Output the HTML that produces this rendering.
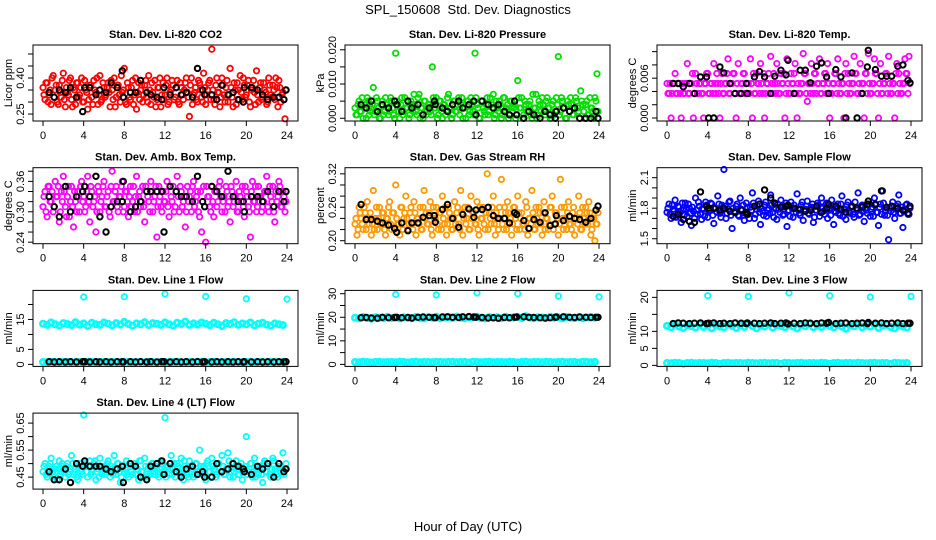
<!DOCTYPE html>
<html><head><meta charset="utf-8"><style>
html,body{margin:0;padding:0;background:#fff;}
svg{display:block;font-family:"Liberation Sans",sans-serif;}
</style></head><body>
<svg id="chart" width="936" height="540" viewBox="0 0 936 540">
<text x="468" y="14" text-anchor="middle" font-size="13">SPL_150608&#160; Std. Dev. Diagnostics</text>
<text x="468" y="531" text-anchor="middle" font-size="13">Hour of Day (UTC)</text>
</svg>
<script>
const xTicks = [0,4,8,12,16,20,24];
const blackHours = [0.6,1.1,1.6,2.2,2.7,3.3,3.9,4.1,4.6,5.2,5.6,6.2,6.7,7.3,7.8,7.9,8.6,9.1,9.6,10.2,10.6,11.2,11.7,11.9,12.5,13.1,13.6,14.1,14.7,15.2,15.7,15.9,16.6,17.1,17.6,18.2,18.7,19.2,19.7,19.8,20.5,21.1,21.6,22.1,22.7,23.2,23.7,23.9];
const outlierHours = [4,8,12,16,20,24];

const co2Vals = [0.36,0.31,0.38,0.33,0.29,0.41,0.35,0.30,0.37,0.32,0.42,0.28,0.34,0.39,0.31,0.36,0.29,0.38,0.33,0.40,0.30,0.35,0.27,0.37,0.32,0.39,0.34,0.29,0.41,0.31,0.36,0.33,0.38,0.28,0.35,0.40,0.32,0.37,0.30,0.34,0.44,0.29,0.36,0.31,0.39,0.33,0.27,0.38,0.35,0.30,0.37,0.32,0.41,0.29,0.34,0.39,0.31,0.36,0.28,0.38,0.33,0.40,0.30,0.35,0.37,0.32,0.39,0.29,0.36,0.31,0.38,0.34,0.24,0.40,0.33,0.36,0.30,0.38,0.32,0.42,0.29,0.35,0.39,0.52,0.31,0.37,0.34,0.28,0.40,0.33,0.36,0.30,0.44,0.32,0.38,0.29,0.35,0.41,0.31,0.37,0.33,0.39,0.28,0.36,0.34,0.43,0.30,0.38,0.32,0.35,0.29,0.40,0.33,0.37,0.31,0.36,0.39,0.30,0.34,0.23];
const co2ValsB = [0.33,0.38,0.30,0.35,0.40,0.32,0.37,0.29,0.34,0.39,0.31,0.36,0.33,0.40,0.28,0.35,0.38,0.32,0.36,0.30,0.39,0.34,0.31,0.37,0.29,0.35,0.40,0.33,0.30,0.38,0.32,0.36,0.34,0.39,0.31,0.28,0.37,0.33,0.41,0.35,0.30,0.38,0.32,0.36,0.29,0.40,0.34,0.31,0.37,0.33,0.39,0.30,0.35,0.38,0.32,0.28,0.36,0.40,0.33,0.31,0.37,0.29,0.34,0.39,0.31,0.36,0.30,0.38,0.33,0.35,0.40,0.32,0.37,0.29,0.34,0.31,0.39,0.35,0.30,0.36,0.33,0.38,0.31,0.35,0.29,0.40,0.34,0.32,0.37,0.30,0.39,0.33,0.36,0.28,0.35,0.38,0.31,0.34,0.40,0.32,0.37,0.30,0.35,0.39,0.29,0.33,0.36,0.31,0.38,0.34,0.30,0.37,0.32,0.35,0.40,0.28,0.36,0.33,0.31,0.35];
const co2Black = [0.34,0.32,0.35,0.34,0.36,0.32,0.26,0.36,0.36,0.33,0.35,0.34,0.38,0.36,0.43,0.32,0.34,0.34,0.39,0.34,0.33,0.32,0.31,0.36,0.33,0.36,0.33,0.34,0.32,0.44,0.35,0.33,0.33,0.31,0.37,0.33,0.34,0.31,0.30,0.36,0.36,0.35,0.33,0.31,0.32,0.32,0.31,0.35];

const presVals = [0.003,0.001,0.005,0.002,0.000,0.004,0.006,0.001,0.003,0.009,0.002,0.005,0.000,0.004,0.001,0.006,0.003,0.002,0.005,0.001,0.019,0.004,0.000,0.006,0.002,0.003,0.005,0.001,0.004,0.007,0.002,0.006,0.000,0.003,0.005,0.001,0.004,0.002,0.015,0.003,0.006,0.001,0.005,0.000,0.004,0.002,0.007,0.003,0.001,0.005,0.002,0.006,0.004,0.000,0.003,0.005,0.001,0.006,0.002,0.019,0.004,0.000,0.005,0.003,0.001,0.006,0.002,0.004,0.007,0.001,0.003,0.005,0.000,0.006,0.002,0.004,0.001,0.005,0.003,0.000,0.011,0.003,0.006,0.001,0.004,0.002,0.005,0.000,0.003,0.007,0.001,0.004,0.006,0.002,0.005,0.003,0.000,0.004,0.001,0.006,0.018,0.002,0.005,0.003,0.000,0.004,0.006,0.001,0.003,0.005,0.002,0.008,0.004,0.000,0.005,0.001,0.003,0.002,0.006,0.013];
const presValsB = [0.001,0.004,0.002,0.006,0.003,0.000,0.005,0.002,0.004,0.001,0.006,0.003,0.000,0.005,0.002,0.004,0.001,0.006,0.003,0.000,0.005,0.002,0.004,0.001,0.006,0.003,0.000,0.005,0.002,0.004,0.001,0.007,0.003,0.000,0.005,0.002,0.004,0.001,0.006,0.003,0.000,0.005,0.002,0.004,0.001,0.006,0.003,0.000,0.005,0.002,0.004,0.001,0.006,0.003,0.000,0.005,0.002,0.004,0.001,0.006,0.003,0.000,0.005,0.002,0.004,0.001,0.006,0.003,0.000,0.005,0.002,0.004,0.001,0.006,0.003,0.000,0.005,0.002,0.004,0.001,0.006,0.003,0.000,0.005,0.002,0.004,0.001,0.007,0.003,0.000,0.005,0.002,0.004,0.001,0.006,0.003,0.000,0.005,0.002,0.004,0.001,0.006,0.003,0.000,0.005,0.002,0.004,0.001,0.006,0.003,0.000,0.005,0.002,0.004,0.001,0.006,0.003,0.000,0.005,0.002];
const presBlack = [0.004,0.003,0.005,0.002,0.004,0.003,0.005,0.004,0.002,0.005,0.003,0.004,0.001,0.003,0.005,0.004,0.003,0.002,0.004,0.005,0.003,0.004,0.005,0.001,0.005,0.004,0.003,0.004,0.002,0.001,0.005,0.001,0.000,0.002,0.001,0.000,0.002,0.001,0.000,0.002,0.003,0.002,0.003,0.000,0.000,0.000,0.002,0.000];

const tempVals = [0.0052,0.0037,0.0000,0.0052,0.0067,0.0037,0.0052,0.0000,0.0037,0.0052,0.0082,0.0037,0.0052,0.0000,0.0067,0.0037,0.0052,0.0037,0.0000,0.0052,0.0067,0.0037,0.0052,0.0082,0.0037,0.0052,0.0000,0.0067,0.0037,0.0052,0.0089,0.0037,0.0052,0.0067,0.0000,0.0082,0.0037,0.0052,0.0067,0.0037,0.0052,0.0089,0.0000,0.0037,0.0067,0.0052,0.0082,0.0037,0.0000,0.0052,0.0067,0.0093,0.0037,0.0052,0.0082,0.0037,0.0067,0.0052,0.0000,0.0089,0.0037,0.0067,0.0052,0.0082,0.0000,0.0037,0.0052,0.0097,0.0067,0.0025,0.0052,0.0082,0.0037,0.0067,0.0052,0.0089,0.0037,0.0052,0.0067,0.0082,0.0000,0.0037,0.0052,0.0067,0.0089,0.0037,0.0052,0.0000,0.0082,0.0067,0.0037,0.0052,0.0093,0.0067,0.0037,0.0082,0.0052,0.0000,0.0067,0.0097,0.0037,0.0052,0.0089,0.0067,0.0000,0.0082,0.0037,0.0052,0.0067,0.0093,0.0037,0.0052,0.0000,0.0082,0.0067,0.0037,0.0052,0.0089,0.0067,0.0093];
const tempValsB = [0.0037,0.0052,0.0037,0.0052,0.0037,0.0052,0.0037,0.0052,0.0037,0.0052,0.0037,0.0052,0.0067,0.0037,0.0052,0.0037,0.0052,0.0037,0.0052,0.0067,0.0037,0.0052,0.0037,0.0052,0.0067,0.0037,0.0052,0.0037,0.0052,0.0067,0.0037,0.0052,0.0067,0.0037,0.0052,0.0037,0.0052,0.0067,0.0037,0.0052,0.0037,0.0052,0.0067,0.0037,0.0052,0.0037,0.0052,0.0067,0.0037,0.0052,0.0037,0.0052,0.0067,0.0037,0.0052,0.0037,0.0052,0.0067,0.0037,0.0052,0.0037,0.0052,0.0067,0.0037,0.0052,0.0037,0.0052,0.0067,0.0037,0.0052,0.0037,0.0052,0.0067,0.0037,0.0052,0.0037,0.0052,0.0067,0.0037,0.0052,0.0037,0.0052,0.0067,0.0037,0.0052,0.0037,0.0052,0.0067,0.0037,0.0052,0.0037,0.0052,0.0067,0.0037,0.0052,0.0037,0.0052,0.0067,0.0037,0.0052,0.0037,0.0052,0.0067,0.0037,0.0052,0.0037,0.0052,0.0067,0.0037,0.0052,0.0037,0.0052,0.0067,0.0037,0.0052,0.0037,0.0052,0.0067,0.0037,0.0052];
const tempBlack = [0.0052,0.0052,0.0047,0.0052,0.0037,0.0062,0.0062,0.0000,0.0000,0.0077,0.0068,0.0052,0.0037,0.0037,0.0052,0.0037,0.0062,0.0070,0.0062,0.0037,0.0063,0.0072,0.0065,0.0087,0.0037,0.0072,0.0072,0.0053,0.0078,0.0083,0.0062,0.0037,0.0073,0.0062,0.0000,0.0068,0.0000,0.0037,0.0077,0.0102,0.0073,0.0063,0.0063,0.0063,0.0078,0.0080,0.0057,0.0053];

const boxVals = [0.31,0.34,0.29,0.35,0.32,0.30,0.36,0.33,0.28,0.34,0.37,0.31,0.33,0.29,0.35,0.27,0.32,0.34,0.30,0.36,0.33,0.31,0.37,0.28,0.34,0.32,0.26,0.35,0.30,0.33,0.36,0.31,0.34,0.29,0.38,0.32,0.35,0.30,0.33,0.36,0.31,0.34,0.29,0.35,0.32,0.30,0.37,0.33,0.31,0.35,0.28,0.34,0.32,0.36,0.30,0.33,0.25,0.35,0.31,0.34,0.32,0.36,0.29,0.33,0.35,0.31,0.37,0.30,0.34,0.32,0.27,0.35,0.33,0.30,0.36,0.32,0.34,0.29,0.26,0.35,0.24,0.33,0.31,0.35,0.29,0.34,0.32,0.36,0.30,0.33,0.35,0.31,0.28,0.34,0.32,0.36,0.30,0.33,0.35,0.29,0.34,0.31,0.25,0.36,0.32,0.30,0.35,0.33,0.31,0.34,0.37,0.30,0.33,0.35,0.28,0.32,0.36,0.31,0.34,0.30];
const boxValsB = [0.33,0.30,0.35,0.32,0.34,0.31,0.33,0.35,0.30,0.32,0.34,0.29,0.35,0.32,0.31,0.34,0.30,0.33,0.35,0.32,0.30,0.34,0.32,0.35,0.31,0.33,0.30,0.34,0.32,0.35,0.31,0.33,0.30,0.35,0.32,0.34,0.31,0.33,0.35,0.30,0.34,0.32,0.33,0.31,0.35,0.33,0.30,0.34,0.32,0.31,0.35,0.33,0.30,0.34,0.32,0.35,0.31,0.33,0.30,0.32,0.34,0.31,0.35,0.32,0.30,0.34,0.33,0.35,0.31,0.33,0.30,0.32,0.34,0.35,0.31,0.33,0.30,0.34,0.32,0.31,0.35,0.33,0.30,0.32,0.34,0.31,0.35,0.33,0.32,0.30,0.34,0.32,0.35,0.31,0.33,0.30,0.34,0.32,0.31,0.35,0.33,0.30,0.34,0.32,0.35,0.31,0.33,0.30,0.32,0.34,0.31,0.35,0.32,0.30,0.34,0.33,0.35,0.31,0.33,0.32];
const boxBlack = [0.33,0.31,0.29,0.35,0.30,0.33,0.34,0.35,0.33,0.37,0.29,0.26,0.31,0.32,0.32,0.36,0.30,0.31,0.32,0.34,0.34,0.34,0.34,0.26,0.35,0.34,0.33,0.33,0.32,0.37,0.32,0.31,0.35,0.34,0.33,0.38,0.33,0.32,0.32,0.30,0.33,0.33,0.32,0.34,0.31,0.34,0.32,0.34];

const rhVals = [0.23,0.21,0.26,0.24,0.22,0.25,0.27,0.23,0.21,0.29,0.24,0.22,0.26,0.23,0.25,0.21,0.24,0.27,0.22,0.25,0.30,0.23,0.21,0.26,0.24,0.28,0.22,0.25,0.23,0.27,0.21,0.24,0.26,0.22,0.29,0.25,0.23,0.27,0.21,0.24,0.26,0.22,0.25,0.28,0.23,0.21,0.26,0.24,0.22,0.27,0.25,0.23,0.29,0.21,0.26,0.24,0.22,0.28,0.25,0.23,0.27,0.21,0.24,0.26,0.22,0.32,0.25,0.23,0.28,0.21,0.24,0.26,0.31,0.22,0.25,0.27,0.23,0.21,0.26,0.24,0.28,0.22,0.25,0.23,0.27,0.21,0.24,0.29,0.22,0.26,0.23,0.25,0.21,0.27,0.24,0.22,0.26,0.28,0.23,0.25,0.21,0.31,0.24,0.26,0.22,0.27,0.23,0.25,0.21,0.24,0.28,0.22,0.26,0.23,0.25,0.27,0.21,0.24,0.20,0.23];
const rhValsB = [0.24,0.22,0.25,0.23,0.26,0.22,0.24,0.25,0.23,0.22,0.26,0.24,0.23,0.25,0.22,0.24,0.26,0.23,0.25,0.22,0.24,0.23,0.26,0.22,0.25,0.24,0.23,0.26,0.22,0.25,0.24,0.23,0.22,0.26,0.24,0.23,0.25,0.22,0.26,0.24,0.23,0.25,0.22,0.24,0.26,0.23,0.25,0.22,0.24,0.23,0.26,0.22,0.25,0.24,0.23,0.26,0.22,0.24,0.25,0.23,0.22,0.26,0.24,0.23,0.25,0.22,0.24,0.26,0.23,0.25,0.22,0.24,0.23,0.26,0.22,0.25,0.24,0.23,0.26,0.22,0.25,0.24,0.23,0.22,0.26,0.24,0.23,0.25,0.22,0.24,0.26,0.23,0.25,0.22,0.24,0.23,0.26,0.22,0.25,0.24,0.23,0.26,0.22,0.24,0.25,0.23,0.22,0.26,0.24,0.23,0.25,0.22,0.24,0.26,0.23,0.25,0.22,0.24,0.23,0.25];
const rhBlack = [0.265,0.238,0.238,0.235,0.232,0.228,0.222,0.215,0.232,0.218,0.232,0.232,0.242,0.245,0.245,0.233,0.256,0.265,0.24,0.224,0.247,0.257,0.242,0.255,0.256,0.26,0.245,0.24,0.24,0.232,0.25,0.247,0.236,0.222,0.238,0.233,0.25,0.227,0.23,0.245,0.236,0.244,0.24,0.238,0.233,0.24,0.255,0.262];

const flowVals = [1.76,1.84,1.70,1.79,1.88,1.73,1.81,1.66,1.78,1.85,1.72,1.80,1.63,1.77,1.90,1.74,1.82,1.69,1.79,1.86,1.71,1.78,1.84,1.65,1.80,1.92,1.75,1.83,2.18,1.70,1.79,1.87,1.60,1.76,1.82,1.73,1.90,1.78,1.68,1.85,1.74,1.81,1.95,1.70,1.79,1.87,1.64,1.77,1.83,1.72,1.80,1.93,1.76,1.84,1.69,1.79,1.88,1.73,1.82,1.62,1.78,1.86,1.71,1.80,1.94,1.75,1.83,1.68,1.79,1.87,1.74,1.81,1.66,1.78,1.85,1.72,1.90,1.77,1.83,1.70,1.80,1.88,1.64,1.76,1.84,1.73,1.92,1.79,1.69,1.86,1.75,1.82,1.71,1.80,1.95,1.74,1.83,1.67,1.78,1.87,1.72,1.81,1.90,1.76,1.63,1.84,1.97,1.73,1.80,1.49,1.77,1.86,1.70,1.82,1.93,1.75,1.61,1.79,1.84,1.74];
const flowValsB = [1.80,1.74,1.83,1.77,1.71,1.82,1.76,1.85,1.73,1.79,1.84,1.75,1.81,1.70,1.78,1.86,1.74,1.80,1.72,1.83,1.77,1.85,1.73,1.80,1.76,1.84,1.71,1.79,1.82,1.75,1.86,1.73,1.80,1.77,1.84,1.72,1.79,1.83,1.75,1.81,1.70,1.78,1.85,1.74,1.82,1.76,1.80,1.73,1.86,1.78,1.75,1.83,1.71,1.79,1.84,1.76,1.81,1.74,1.85,1.78,1.72,1.80,1.83,1.76,1.79,1.73,1.86,1.77,1.82,1.75,1.80,1.84,1.71,1.78,1.83,1.76,1.81,1.74,1.85,1.79,1.73,1.82,1.77,1.80,1.75,1.84,1.72,1.79,1.83,1.76,1.81,1.74,1.86,1.78,1.73,1.82,1.77,1.80,1.75,1.84,1.79,1.72,1.83,1.76,1.81,1.74,1.85,1.78,1.73,1.80,1.82,1.76,1.79,1.84,1.75,1.81,1.77,1.83,1.74,1.80];
const flowBlack = [1.72,1.74,1.69,1.67,1.66,1.96,1.82,1.80,1.80,1.78,1.80,1.77,1.76,1.78,1.76,1.74,1.82,1.84,1.98,1.90,1.85,1.81,1.82,1.83,1.80,1.79,1.77,1.78,1.82,1.76,1.80,1.84,1.82,1.79,1.76,1.82,1.80,1.81,1.84,1.87,1.84,1.97,1.81,1.82,1.80,1.78,1.75,1.82];

const l1Upper = [13.6,13.2,14.0,13.4,12.9,13.8,13.5,13.1,14.1,13.3,13.7,12.8,13.9,13.4,13.2,14.0,13.6,13.0,13.8,13.3,14.2,13.5,12.9,13.7,13.4,14.1,13.1,13.8,13.6,13.2,14.0,13.4,12.9,13.9,13.5,14.3,13.2,13.7,13.3,14.0,13.6,13.1,13.9,13.4,12.8,13.8,13.5,14.1,13.2,13.7,13.4,14.0,13.0,13.6,13.9,13.3,12.9,13.7,13.4,13.1];
const l1Lower = [0.8,0.7,0.9,0.8,0.6,0.8,0.9,0.7,0.8,0.8,0.7,0.9,0.8,0.6,0.8,0.9,0.7,0.8,0.8,0.7,0.9,0.8,0.7,0.8,0.9,0.7,0.8,0.8,0.6,0.9,0.8,0.7,0.8,0.9,0.7,0.8,0.8,0.7,0.9,0.8,0.6,0.8,0.9,0.7,0.8,0.8,0.7,0.9,0.8,0.7,0.8,0.9,0.7,0.8,0.8,0.6,0.9,0.8,0.7,0.8];
const l1Black = [0.9,0.8,0.9,0.8,0.9,0.8,0.9,0.9,0.8,0.9,0.8,0.9,0.8,0.9,0.9,0.8,0.9,0.8,0.9,0.8,0.9,0.8,0.9,0.9,0.8,0.9,0.8,0.9,0.8,0.9,0.8,0.9,0.8,0.9,0.8,0.9,0.8,0.9,0.8,0.9,0.8,0.9,0.8,0.9,0.8,0.9,0.8,0.9];
const l1Out = [22.5,22.6,23.5,22.7,21.9,21.8];

const l2Upper = [19.8,19.5,20.1,19.7,19.4,20.0,19.8,19.6,20.2,19.7,19.9,19.5,20.0,19.8,19.6,20.1,19.7,19.5,20.0,19.8,20.2,19.6,19.9,20.1,19.7,20.3,19.8,19.6,20.0,19.9,20.2,19.7,19.5,20.1,19.8,20.0,19.6,20.2,19.8,19.9,20.1,19.7,20.4,19.8,19.6,20.0,19.9,19.7,20.2,19.8,20.0,19.5,20.1,19.8,19.7,20.0,19.6,19.9,20.1,19.8];
const l2Lower = [1.0,0.9,1.1,1.0,0.8,1.0,1.1,0.9,1.0,1.0,0.9,1.1,1.0,0.8,1.0,1.1,0.9,1.0,1.0,0.9,1.1,1.0,0.9,1.0,1.1,0.9,1.0,1.0,0.8,1.1,1.0,0.9,1.0,1.1,0.9,1.0,1.0,0.9,1.1,1.0,0.8,1.0,1.1,0.9,1.0,1.0,0.9,1.1,1.0,0.9,1.0,1.1,0.9,1.0,1.0,0.8,1.1,1.0,0.9,1.0];
const l2Black = [19.8,19.9,19.7,19.6,20.0,19.8,19.9,20.0,19.8,19.9,19.7,20.0,20.1,20.0,19.9,19.8,20.1,20.2,20.0,19.9,20.2,20.3,20.1,20.0,19.9,19.7,19.8,19.6,19.9,19.8,20.0,20.1,20.2,20.0,19.9,19.8,19.7,19.8,20.0,20.1,20.2,20.0,19.9,20.1,20.0,19.9,20.0,20.0];
const l2Out = [29.7,29.5,30.3,30.0,29.0,28.7];

const l3Upper = [11.6,11.2,12.0,11.4,11.0,11.8,11.5,11.1,12.1,11.3,11.7,10.9,11.9,11.4,11.2,12.0,11.6,11.0,11.8,11.3,12.2,11.5,10.9,11.7,11.4,12.1,11.1,11.8,11.6,11.2,12.0,11.4,10.9,11.9,11.5,12.3,11.2,11.7,11.3,12.0,11.6,11.1,11.9,11.4,10.8,11.8,11.5,12.1,11.2,11.7,11.4,12.0,11.0,11.6,11.9,11.3,10.9,11.7,11.4,11.1];
const l3Lower = [0.7,0.6,0.8,0.7,0.5,0.7,0.8,0.6,0.7,0.7,0.6,0.8,0.7,0.5,0.7,0.8,0.6,0.7,0.7,0.6,0.8,0.7,0.6,0.7,0.8,0.6,0.7,0.7,0.5,0.8,0.7,0.6,0.7,0.8,0.6,0.7,0.7,0.6,0.8,0.7,0.5,0.7,0.8,0.6,0.7,0.7,0.6,0.8,0.7,0.6,0.7,0.8,0.6,0.7,0.7,0.5,0.8,0.7,0.6,0.7];
const l3Black = [12.3,12.5,12.4,12.3,12.4,12.5,12.3,12.4,12.5,12.3,12.4,12.3,12.5,12.4,12.3,12.5,12.4,12.3,12.4,12.5,12.3,12.4,12.5,12.2,12.4,12.3,12.5,12.4,12.3,12.5,12.4,12.6,12.3,12.4,12.5,12.3,12.4,12.5,12.3,12.6,12.4,12.5,12.3,12.4,12.5,12.3,12.4,12.4];
const l3Out = [20.5,20.3,21.3,20.5,20.1,20.3];

const l4Vals = [0.47,0.50,0.45,0.49,0.52,0.46,0.48,0.44,0.51,0.47,0.49,0.45,0.50,0.47,0.53,0.46,0.48,0.44,0.50,0.47,0.68,0.49,0.45,0.51,0.47,0.50,0.44,0.48,0.52,0.46,0.49,0.47,0.51,0.45,0.48,0.53,0.46,0.50,0.43,0.48,0.47,0.51,0.45,0.49,0.46,0.50,0.48,0.44,0.51,0.47,0.52,0.45,0.49,0.47,0.50,0.46,0.48,0.45,0.51,0.47,0.67,0.49,0.46,0.53,0.48,0.45,0.50,0.47,0.52,0.44,0.49,0.46,0.51,0.48,0.45,0.50,0.47,0.55,0.46,0.49,0.44,0.51,0.47,0.52,0.48,0.45,0.50,0.47,0.53,0.46,0.48,0.54,0.45,0.50,0.47,0.51,0.46,0.49,0.44,0.48,0.60,0.47,0.50,0.45,0.52,0.48,0.46,0.49,0.43,0.51,0.47,0.50,0.45,0.52,0.48,0.46,0.49,0.47,0.54,0.48];
const l4ValsB = [0.49,0.46,0.48,0.50,0.47,0.45,0.49,0.48,0.46,0.50,0.47,0.49,0.46,0.48,0.50,0.47,0.45,0.49,0.48,0.46,0.50,0.47,0.49,0.46,0.48,0.51,0.47,0.45,0.49,0.48,0.46,0.50,0.47,0.49,0.46,0.48,0.50,0.47,0.45,0.49,0.48,0.46,0.50,0.47,0.49,0.46,0.48,0.51,0.47,0.45,0.49,0.48,0.46,0.50,0.47,0.49,0.46,0.48,0.50,0.47,0.45,0.49,0.48,0.46,0.50,0.47,0.49,0.46,0.48,0.51,0.47,0.45,0.49,0.48,0.46,0.50,0.47,0.49,0.46,0.48,0.50,0.47,0.45,0.49,0.48,0.46,0.50,0.47,0.49,0.46,0.48,0.51,0.47,0.45,0.49,0.48,0.46,0.50,0.47,0.49,0.46,0.48,0.50,0.47,0.45,0.49,0.48,0.46,0.50,0.47,0.49,0.46,0.48,0.51,0.47,0.45,0.49,0.48,0.46,0.50];
const l4Black = [0.47,0.44,0.44,0.48,0.43,0.50,0.49,0.51,0.49,0.49,0.49,0.48,0.47,0.48,0.49,0.43,0.50,0.49,0.45,0.44,0.49,0.50,0.51,0.46,0.50,0.47,0.45,0.48,0.49,0.46,0.47,0.45,0.45,0.50,0.47,0.48,0.50,0.49,0.48,0.47,0.46,0.49,0.48,0.50,0.45,0.50,0.47,0.48];

const panels = [
 {id:'co2',title:'Stan. Dev. Li-820 CO2',ylab:'Licor ppm',col:0,row:0,ymin:0.221,ymax:0.5375,ticks:[0.25,0.30,0.35,0.40,0.45,0.50],labels:['0.25','','','0.40','',''],color:'#ff0000',series:[co2ValsB,co2Vals],sparse:[],black:co2Black},
 {id:'pressure',title:'Stan. Dev. Li-820 Pressure',ylab:'kPa',col:1,row:0,ymin:-0.0008,ymax:0.0214,ticks:[0,0.005,0.010,0.015,0.020],labels:['0.000','','0.010','','0.020'],color:'#00dd00',series:[presValsB,presVals],sparse:[],black:presBlack},
 {id:'temp',title:'Stan. Dev. Li-820 Temp.',ylab:'degrees C',col:2,row:0,ymin:-0.00045,ymax:0.011,ticks:[0,0.002,0.004,0.006,0.008,0.010],labels:['0.000','','','0.006','',''],color:'#ff00ff',series:[tempValsB,tempVals],sparse:[],black:tempBlack},
 {id:'box-temp',title:'Stan. Dev. Amb. Box Temp.',ylab:'degrees C',col:0,row:1,ymin:0.237,ymax:0.387,ticks:[0.24,0.26,0.28,0.30,0.32,0.34,0.36,0.38],labels:['0.24','','','0.30','','','0.36',''],color:'#ff00ff',series:[boxValsB,boxVals],sparse:[],black:boxBlack},
 {id:'rh',title:'Stan. Dev. Gas Stream RH',ylab:'percent',col:1,row:1,ymin:0.1946,ymax:0.331,ticks:[0.20,0.22,0.24,0.26,0.28,0.30,0.32],labels:['0.20','','','0.26','','','0.32'],color:'#ff9900',series:[rhValsB,rhVals],sparse:[],black:rhBlack},
 {id:'sample-flow',title:'Stan. Dev. Sample Flow',ylab:'ml/min',col:2,row:1,ymin:1.451,ymax:2.198,ticks:[1.5,1.6,1.7,1.8,1.9,2.0,2.1],labels:['1.5','','','1.8','','','2.1'],color:'#0000ff',series:[flowValsB,flowVals],sparse:[],black:flowBlack},
 {id:'line1',title:'Stan. Dev. Line 1 Flow',ylab:'ml/min',col:0,row:2,ymin:-0.67,ymax:24.7,ticks:[0,5,10,15,20],labels:['0','5','','15',''],color:'#00ffff',series:[l1Upper,l1Lower],sparse:l1Out,black:l1Black},
 {id:'line2',title:'Stan. Dev. Line 2 Flow',ylab:'ml/min',col:1,row:2,ymin:-0.85,ymax:31.4,ticks:[0,5,10,15,20,25,30],labels:['0','','10','','20','','30'],color:'#00ffff',series:[l2Upper,l2Lower],sparse:l2Out,black:l2Black},
 {id:'line3',title:'Stan. Dev. Line 3 Flow',ylab:'ml/min',col:2,row:2,ymin:-0.3,ymax:22.05,ticks:[0,5,10,15,20],labels:['0','5','10','','20'],color:'#00ffff',series:[l3Upper,l3Lower],sparse:l3Out,black:l3Black},
 {id:'line4',title:'Stan. Dev. Line 4 (LT) Flow',ylab:'ml/min',col:0,row:3,ymin:0.4056,ymax:0.687,ticks:[0.45,0.50,0.55,0.60,0.65],labels:['0.45','','0.55','','0.65'],color:'#00ffff',series:[l4ValsB,l4Vals],sparse:[],black:l4Black}
];

const NS='http://www.w3.org/2000/svg';
const svg=document.getElementById('chart');
function mk(tag,attrs,parent){const e=document.createElementNS(NS,tag);for(const k in attrs)e.setAttribute(k,attrs[k]);parent.appendChild(e);return e;}

panels.forEach(p=>{
  const left=33+312*p.col, width=265, top=45+122.7*p.row, height=76;
  const x0=left+10, xs=244/24;
  const xScale=h=>x0+h*xs;
  const yScale=v=>top+height-(v-p.ymin)/(p.ymax-p.ymin)*height;
  const g=mk('g',{},svg);
  
  
  const t=mk('text',{x:left+width/2,y:top-7,'text-anchor':'middle','font-size':'11','font-weight':'bold'},g);
  t.textContent=p.title;
  
  
  const yl=mk('text',{x:0,y:0,'text-anchor':'middle','font-size':'11',transform:`translate(${left-21},${top+height/2}) rotate(-90)`},g);
  yl.textContent=p.ylab;
  
  
  const pts=mk('g',{fill:'none','stroke-width':'1.8'},g);
  
  
  p.series.forEach((arr,si)=>{
    const off=si===0&&p.series.length===2&&arr.length===120?0.1:0;
    const sw=arr.length<100?'2.6':'1.8';
    arr.forEach((v,i)=>{
      const c=mk('circle',{cx:xScale(off+i*24/arr.length).toFixed(1),cy:yScale(v).toFixed(1),r:2.7,stroke:p.color,'stroke-width':sw},pts);
      
      
    });
  });
  p.sparse.forEach((v,i)=>{
    const c=mk('circle',{cx:xScale(outlierHours[i]).toFixed(1),cy:yScale(v).toFixed(1),r:2.7,stroke:p.color},pts);
    
    
  });
  p.black.forEach((v,i)=>{
    const c=mk('circle',{cx:xScale(blackHours[i]).toFixed(1),cy:yScale(v).toFixed(1),r:2.7,stroke:'#000','stroke-width':'2'},pts);
    
    
  });
  const b=mk('rect',{x:left,y:top,width:width,height:height,fill:'none',stroke:'#000','stroke-width':'1'},g);
  
  
  xTicks.forEach(h=>{
    const x=xScale(h);
    mk('line',{x1:x,x2:x,y1:top+height,y2:top+height+5,stroke:'#000'},g);
    const tl=mk('text',{x:x,y:top+height+18,'text-anchor':'middle','font-size':'11'},g);
    tl.textContent=h;
    
    
  });
  p.ticks.forEach((v,i)=>{
    const y=yScale(v);
    mk('line',{x1:left-5,x2:left,y1:y,y2:y,stroke:'#000'},g);
    if(p.labels[i]){
      const tl=mk('text',{x:0,y:0,'text-anchor':'middle','font-size':'11',transform:`translate(${left-9},${y}) rotate(-90)`},g);
      tl.textContent=p.labels[i];
      
      
    }
  });
});
</script>
</body></html>
